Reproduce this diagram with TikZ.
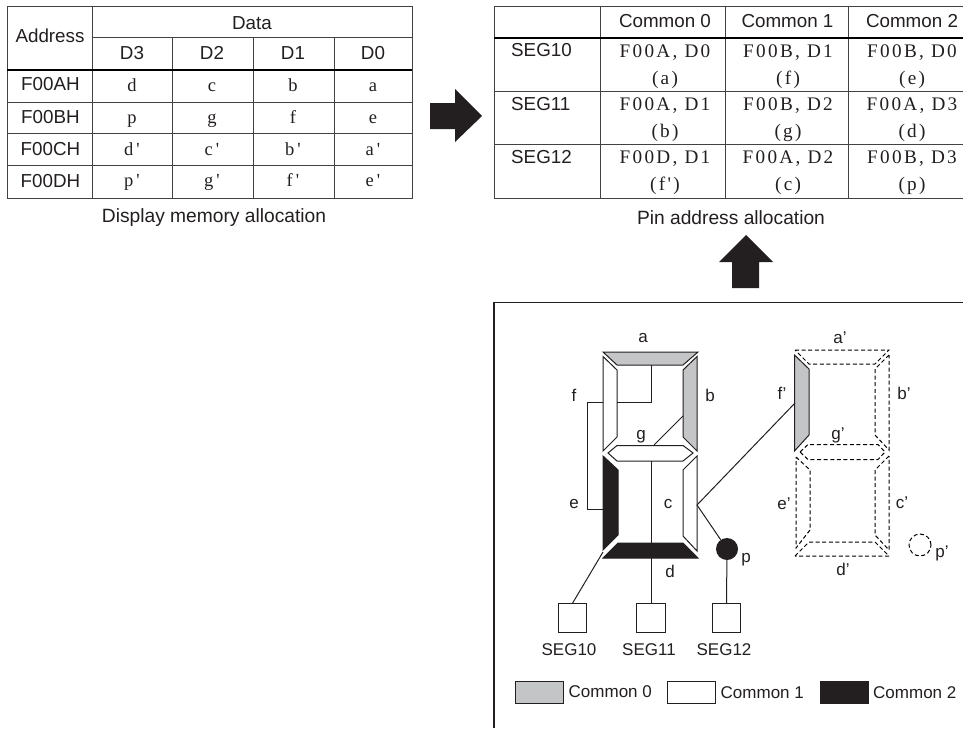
\documentclass[tikz,border=0pt]{standalone}
\usepackage{fontspec}
\setmainfont{Liberation Sans}
\newfontfamily\srf{Liberation Serif}
\newfontfamily\srfs[LetterSpace=12]{Liberation Serif}
\definecolor{ink}{HTML}{231F20}
\definecolor{segg}{HTML}{C4C5C7}
\begin{document}
\begin{tikzpicture}[x=1pt,y=-1pt,line join=miter,
  tl/.style={draw=ink!85,line width=1pt},
  thick rule/.style={draw=black,line width=2.2pt},
  sans/.style={inner sep=0pt,text=ink,font=\fontsize{17}{19}\selectfont},
  tsans/.style={inner sep=0pt,text=ink,font=\fontsize{18.8}{21}\selectfont},
  ser/.style={inner sep=0pt,text=ink,font=\fontsize{18.5}{21}\srf},
  sers/.style={inner sep=0pt,text=ink,font=\fontsize{19.2}{21}\srfs},
  segw/.style={draw=ink,line width=1pt,fill=white},
  segc0/.style={draw=ink,line width=1pt,fill=segg},
  segc2/.style={draw=ink,line width=1pt,fill=ink},
  segd/.style={draw=black,line width=1pt,dash pattern=on 4pt off 2.6pt},
  wire/.style={draw=ink,line width=1pt},
  pinbox/.style={draw=ink,line width=1pt,fill=white,minimum width=28.5pt,minimum height=28.5pt,inner sep=0pt},
  legbox/.style={line width=1pt,minimum width=48pt,minimum height=22pt,inner sep=0pt},
  bigarrow/.style={fill=ink,draw=none}]
\useasboundingbox (0,0) rectangle (963,728);
\fill[white] (0,0) rectangle (963,728);

% ---- left table
\draw[tl] (7,6) rectangle (412,198);
\draw[tl] (92,6) -- (92,198);
\draw[tl] (92,37.5) -- (412,37.5);
\foreach \x in {172,253,334} \draw[tl] (\x,37.5) -- (\x,198);
\draw[thick rule] (7,70) -- (412,70);
\foreach \y in {102,133.5,165} \draw[tl] (7,\y) -- (412,\y);
\node[tsans] (thaddr) at (50,36) {Address};
\node[tsans] (thdata) at (252,23) {Data};
\node[tsans] (d3) at (132,53) {D3};
\node[tsans] (d2) at (212,53) {D2};
\node[tsans] (d1) at (293,53) {D1};
\node[tsans] (d0) at (373,53) {D0};
\node[tsans] (r1) at (50.5,84) {F00AH};
\node[tsans] (r2) at (50.5,117) {F00BH};
\node[tsans] (r3) at (50.5,149) {F00CH};
\node[tsans] (r4) at (50.5,181) {F00DH};
\node[ser,anchor=base] (m1) at (132,91) {d};
\node[ser,anchor=base] (m2) at (212,91) {c};
\node[ser,anchor=base] (m3) at (293,91) {b};
\node[ser,anchor=base] (m4) at (373,91) {a};
\node[ser,anchor=base] (m5) at (132,123) {p};
\node[ser,anchor=base] (m6) at (212,123) {g};
\node[ser,anchor=base] (m7) at (293,123) {f};
\node[ser,anchor=base] (m8) at (373,123) {e};
\node[ser,anchor=base] (m9) at (132,155) {d\,'};
\node[ser,anchor=base] (m10) at (212,155) {c\,'};
\node[ser,anchor=base] (m11) at (293,155) {b\,'};
\node[ser,anchor=base] (m12) at (373,155) {a\,'};
\node[ser,anchor=base] (m13) at (132,186) {p\,'};
\node[ser,anchor=base] (m14) at (212,186) {g\,'};
\node[ser,anchor=base] (m15) at (293,186) {f\,'};
\node[ser,anchor=base] (m16) at (373,186) {e\,'};
\node[tsans,font=\fontsize{19.2}{21}\selectfont] (cap1) at (214,218) {Display memory allocation};

% ---- arrows
\path[bigarrow] (430,103) -- (455,103) -- (455,89) -- (482,116) -- (455,142) -- (455,129) -- (430,129) -- cycle;
\path[bigarrow] (732,288) -- (732,262) -- (719,262) -- (746,235) -- (773,262) -- (759,262) -- (759,288) -- cycle;

% ---- right table
\draw[tl] (963,6) -- (494,6) -- (494,198) -- (963,198);
\draw[tl] (600,6) -- (600,198);
\draw[tl] (725,6) -- (725,198);
\draw[tl] (848,6) -- (848,198);
\draw[thick rule] (494,38) -- (963,38);
\draw[tl] (494,91) -- (963,91);
\draw[tl] (494,144) -- (963,144);
\node[tsans] (c0) at (665,21) {Common 0};
\node[tsans] (c1) at (787.5,21) {Common 1};
\node[tsans] (c2) at (912,21) {Common 2};
\node[tsans,anchor=west] (s10) at (511,50.5) {SEG10};
\node[tsans,anchor=west] (s11) at (511,104) {SEG11};
\node[tsans,anchor=west] (s12) at (511,157.5) {SEG12};
\node[sers,anchor=base] (p1) at (665,57) {F00A, D0};
\node[sers,anchor=base] (p2) at (665,84) {(a)};
\node[sers,anchor=base] (p3) at (665,110) {F00A, D1};
\node[sers,anchor=base] (p4) at (665,137) {(b)};
\node[sers,anchor=base] (p5) at (665,163) {F00D, D1};
\node[sers,anchor=base] (p6) at (665,190) {(f')};
\node[sers,anchor=base] (p7) at (788,57) {F00B, D1};
\node[sers,anchor=base] (p8) at (788,84) {(f)};
\node[sers,anchor=base] (p9) at (788,110) {F00B, D2};
\node[sers,anchor=base] (p10) at (788,137) {(g)};
\node[sers,anchor=base] (p11) at (788,163) {F00A, D2};
\node[sers,anchor=base] (p12) at (788,190) {(c)};
\node[sers,anchor=base] (p13) at (912,57) {F00B, D0};
\node[sers,anchor=base] (p14) at (912,84) {(e)};
\node[sers,anchor=base] (p15) at (912,110) {F00A, D3};
\node[sers,anchor=base] (p16) at (912,137) {(d)};
\node[sers,anchor=base] (p17) at (912,163) {F00B, D3};
\node[sers,anchor=base] (p18) at (912,190) {(p)};
\node[tsans,font=\fontsize{19.2}{21}\selectfont] (cap2) at (731,218) {Pin address allocation};

% ---- frame
\draw[draw=ink,line width=1.1pt] (963,302.5) -- (494,302.5) -- (494,728);

% ---- solid digit
\coordinate (fw1) at (603,402); \coordinate (fw2) at (587,402);
\coordinate (fw3) at (587,509); \coordinate (fw4) at (603,509);
\coordinate (aw1) at (651,365); \coordinate (aw2) at (651,402); \coordinate (aw3) at (617,402);
\coordinate (bw1) at (683,416); \coordinate (bw2) at (654,445);
\coordinate (gw1) at (651,461);
\coordinate (cw) at (697,505); \coordinate (fpw) at (795,403);
\coordinate (ew) at (603,552);

\path[segc0] (603,352) -- (698,352) -- (683,365) -- (617,365) -- cycle;
\path[segw] (603,356.5) -- (617,370) -- (617,437) -- (603,451) -- cycle;
\path[segc0] (697,356.5) -- (683,370) -- (683,437) -- (697,451) -- cycle;
\path[segw] (608,453) -- (617,445.5) -- (683,445.5) -- (693,453) -- (683,461) -- (617,461) -- cycle;
\path[segc2] (603,456) -- (618,470) -- (618,535) -- (603,550) -- cycle;
\path[segw] (697,456) -- (683,470) -- (683,536) -- (697,551) -- cycle;
\path[segc2] (603,558) -- (618,543) -- (683,543) -- (698,558) -- cycle;

% ---- primed digit (dashed)
\path[segd] (795,350) -- (889,350) -- (875,364) -- (809,364) -- cycle;
\path[segd] (889,355) -- (875,369) -- (875,435) -- (889,450) -- cycle;
\path[segd] (800,452) -- (808,444.5) -- (878,444.5) -- (885,452) -- (878,459.5) -- (808,459.5) -- cycle;
\path[segd] (796,457) -- (810,470) -- (810,530) -- (796,548) -- cycle;
\path[segd] (889,456) -- (875,470) -- (875,535) -- (889,550) -- cycle;
\path[segd] (795,556) -- (809,542) -- (875,542) -- (889,556) -- cycle;
\path[segc0] (794.5,355) -- (809,369) -- (809,435) -- (794.5,451) -- cycle;
\node[circle,draw=black,line width=1pt,dash pattern=on 4pt off 2.6pt,minimum size=22pt,inner sep=0pt] (pp) at (920,545) {};
\node[circle,fill=ink,minimum size=22pt,inner sep=0pt] (pt) at (727,549) {};

% ---- pins
\node[pinbox] (seg10) at (572.5,618) {};
\node[pinbox] (seg11) at (651,618) {};
\node[pinbox] (seg12) at (726.5,618) {};

% ---- wires
\draw[wire] (aw1) -- (aw2) -- (aw3);
\draw[wire] (fw1) -- (fw2) -- (fw3) -- (fw4);
\draw[wire] (bw1) -- (bw2);
\draw[wire] (gw1) -- (seg11.north);
\draw[wire] (cw) -- (fpw);
\draw[wire] (cw) -- (pt);
\draw[wire] (ew) -- (seg10.north);
\draw[wire] (pt) -- (seg12.north);

% ---- segment labels
\node[sans] (la) at (643,338) {a};
\node[sans] (lf) at (574,395) {f};
\node[sans] (lb) at (710,395) {b};
\node[sans] (lg) at (641,437) {g};
\node[sans] (le) at (574,504) {e};
\node[sans] (lc) at (668,504) {c};
\node[sans] (ld) at (670,571) {d};
\node[sans] (lp) at (746,560) {p};
\node[sans] (lap) at (840,338) {a'};
\node[sans] (lbp) at (904,393) {b'};
\node[sans] (lfp) at (782,393) {f'};
\node[sans] (lgp) at (838,435) {g'};
\node[sans] (lep) at (784,504) {e'};
\node[sans] (lcp) at (902,503) {c'};
\node[sans] (ldp) at (843,569) {d'};
\node[sans] (lpp) at (942,553) {p'};
\node[sans] (n10) at (569,650) {SEG10};
\node[sans] (n11) at (649,650) {SEG11};
\node[sans] (n12) at (724,650) {SEG12};

% ---- legend
\node[legbox,draw=ink,fill=segg] (k0) at (539,692) {};
\node[legbox,draw=ink,fill=white] (k1) at (691.5,692) {};
\node[legbox,draw=ink,fill=ink] (k2) at (844,692) {};
\node[sans,anchor=west] (t0) at (568.5,692) {Common 0};
\node[sans,anchor=west] (t1) at (720.5,693) {Common 1};
\node[sans,anchor=west] (t2) at (873,693) {Common 2};
\end{tikzpicture}
\end{document}
